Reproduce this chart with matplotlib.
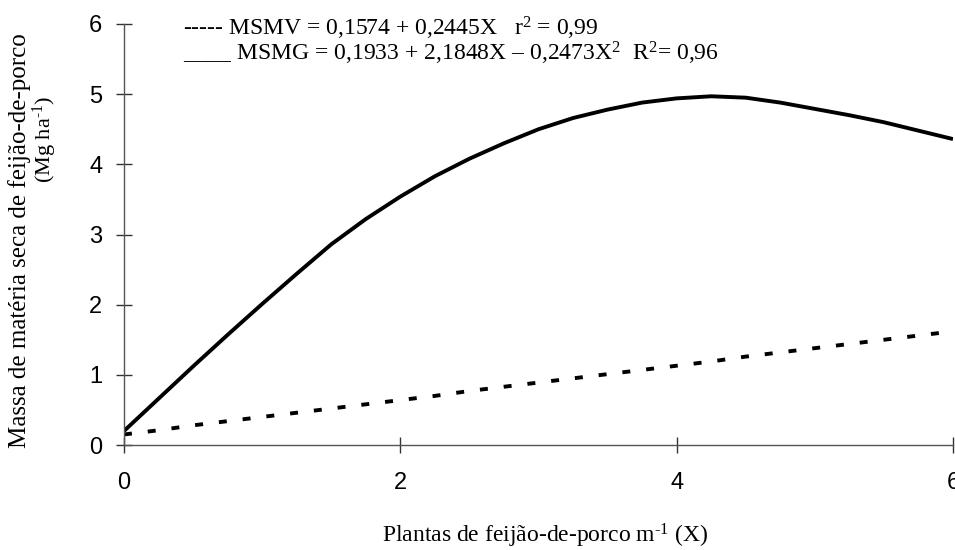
import numpy as np
import matplotlib
matplotlib.use("Agg")
import matplotlib.pyplot as plt

# values
x_vals = [0, 0.25, 0.5, 0.75, 1.0, 1.25, 1.5, 1.75, 2.0, 2.25, 2.5, 2.75, 3.0,
          3.25, 3.5, 3.75, 4.0, 4.25, 4.5, 4.75, 5.0, 5.25, 5.5, 5.75, 6.0]
msmg = [0.20, 0.66, 1.12, 1.57, 2.01, 2.44, 2.86, 3.22, 3.54, 3.83, 4.08, 4.30, 4.50,
        4.66, 4.78, 4.88, 4.94, 4.97, 4.95, 4.88, 4.79, 4.70, 4.60, 4.48, 4.36]
msmv = [0.15, 0.21, 0.28, 0.34, 0.40, 0.46, 0.52, 0.58, 0.64, 0.70, 0.77, 0.83, 0.89,
        0.95, 1.01, 1.07, 1.13, 1.19, 1.26, 1.32, 1.38, 1.44, 1.50, 1.56, 1.62]
x_ticks = [0, 2, 4, 6]
y_ticks = [0, 1, 2, 3, 4, 5, 6]

plt.rcParams['mathtext.fontset'] = 'custom'
plt.rcParams['mathtext.rm'] = 'Liberation Serif'
plt.rcParams['mathtext.default'] = 'regular'

serif = 'Liberation Serif'
sans = 'Liberation Sans'

fig = plt.figure(figsize=(9.55, 5.5), dpi=100)
ax = fig.add_axes([124 / 955, 1 - 445 / 550, (953 - 124) / 955, (445 - 24) / 550])

ax.plot(x_vals, msmg, color='black', lw=2.8, solid_capstyle='butt')
ax.plot(x_vals, msmv, color='black', lw=2.8, linestyle=(0, (2.05, 4.1)),
        dash_capstyle='butt')

ax.set_xlim(0, 6)
ax.set_ylim(0, 6)
ax.set_xticks(x_ticks)
ax.set_yticks(y_ticks)
ax.set_xticklabels([str(v) for v in x_ticks], fontfamily=sans, fontsize=17)
ax.set_yticklabels([str(v) for v in y_ticks], fontfamily=sans, fontsize=17)

for side in ['top', 'right']:
    ax.spines[side].set_visible(False)
for side in ['left', 'bottom']:
    ax.spines[side].set_color('#555555')
    ax.spines[side].set_linewidth(1.0)
    ax.spines[side].set_clip_on(False)

ax.tick_params(axis='both', direction='inout', length=11.5, width=1.0,
               color='#333333')
ax.tick_params(axis='y', pad=10)
ax.tick_params(axis='x', pad=14)

# axis titles
fig.text(545 / 955, 1 - 536 / 550, 'Plantas de feijão-de-porco m$^{\\text{-1}}$ (X)',
         ha='center', va='center', fontfamily=serif, fontsize=17)
fig.text(20 / 955, 1 - 241 / 550, 'Massa de matéria seca de feijão-de-porco',
         ha='center', va='center', rotation=90, fontfamily=serif, fontsize=18)
fig.text(45 / 955, 1 - 139 / 550, '(Mg ha$^{\\text{-1}}$)',
         ha='center', va='center', rotation=90, fontfamily=serif, fontsize=16)

# equations used as legend
fig.text(183 / 955, 1 - 28 / 550,
         '----- MSMV = 0,1574 + 0,2445X   r$^{2}$ = 0,99',
         ha='left', va='center', fontfamily=serif, fontsize=17)
fig.text(183 / 955, 1 - 53 / 550,
         '____ MSMG = 0,1933 + 2,1848X \u2013 0,2473X$^{2}$  R$^{2}$= 0,96',
         ha='left', va='center', fontfamily=serif, fontsize=17)

fig.savefig('out.png', dpi=100)
